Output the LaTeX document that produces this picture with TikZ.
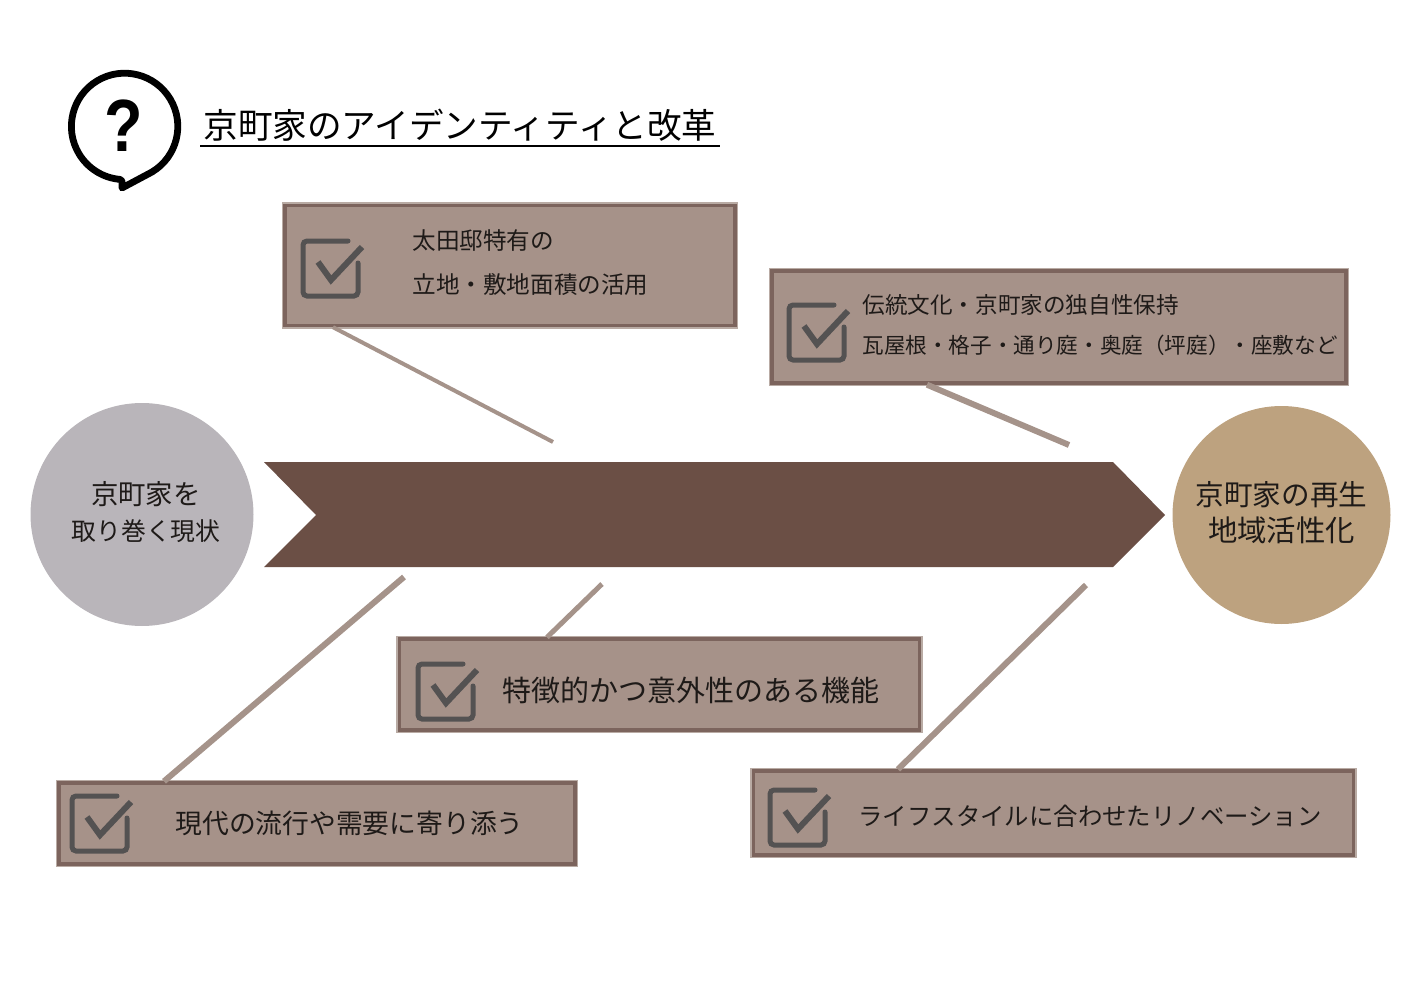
\documentclass[tikz,border=0pt]{standalone}
\usepackage{fontspec}
\usepackage{tikz}
\setmainfont{Noto Sans CJK JP}
\newfontfamily\markfont{Liberation Sans}

\definecolor{boxfill}{HTML}{A69289}
\definecolor{boxline}{HTML}{7C645D}
\definecolor{boxhalo}{HTML}{B9ABA4}
\definecolor{stick}{HTML}{A5938A}
\definecolor{spine}{HTML}{6B4F45}
\definecolor{startdisc}{HTML}{B9B5BA}
\definecolor{enddisc}{HTML}{BDA27F}
\definecolor{tickgray}{HTML}{545252}
\definecolor{inkgray}{HTML}{1E1A18}

\tikzset{
  notebox/.style={rectangle,fill=boxfill,draw=boxline,line width=1.7pt,inner sep=0pt,
    preaction={draw=boxhalo,line width=3.2pt}},
  disc/.style={circle,inner sep=0pt},
  disclabel/.style={inner sep=0pt,align=center,text=inkgray},
  label/.style={anchor=west,inner sep=0pt,align=left,text=inkgray},
  stickline/.style={draw=stick},
  checkmark/.pic={
    \draw[tickgray,line width=2.5pt,rounded corners=2pt,line cap=round]
      (55,22) -- (55,55) -- (0,55) -- (0,0) -- (45,0);
    \draw[tickgray,line width=3pt] (15,21) -- (28,39) -- (59,6);
  }
}
\newcommand{\pxfont}[2]{\fontsize{#1}{#2}\selectfont}

\begin{document}
\begin{tikzpicture}[x=0.5pt,y=-0.5pt]
  \useasboundingbox (0,0) rectangle (1415,1001);

  % heading
  \draw[line width=3.4pt,line join=round] (152,172)
    arc[start angle=-59,end angle=265,radius=26.6pt] -- (122,181) -- (122,188) -- cycle;
  \node[inner sep=0pt,xscale=0.85,font=\markfont\bfseries\pxfont{37}{37}] (askmark) at (124,126) {?};
  \node[label,text=black,font=\pxfont{17.3}{20}] (heading) at (203,125) {京町家のアイデンティティと改革};
  \coordinate (ruleleft) at (200,146);
  \coordinate (ruleright) at (720,146);
  \draw[line width=1pt] (ruleleft) -- (ruleright);

  % arrow and the two ends
  \fill[spine] (264,462) -- (1113,462) -- (1165,515) -- (1113,567) -- (264,567) -- (316,515) -- cycle;
  \node[disc,fill=startdisc,minimum size=111.5pt] (startnode) at (142,514.5) {};
  \node[disc,fill=enddisc,minimum size=109pt] (endnode) at (1281.5,515) {};
  \node[disclabel,font=\pxfont{12.4}{18}] (starttext) at (146,512) {\pxfont{13.7}{18}京町家を\\取り巻く現状};
  \node[disclabel,font=\pxfont{14.7}{18}] (endtext) at (1281.5,512.5) {\pxfont{14.3}{18}京町家の再生\\地域活性化};

  % boxes
  \node[notebox,minimum width=225pt,minimum height=60pt] (box0) at (510,265.5) {};
  \node[notebox,minimum width=287pt,minimum height=56pt] (box1) at (1059,327) {};
  \node[notebox,minimum width=260pt,minimum height=45.5pt] (box2) at (659.5,684.5) {};
  \node[notebox,minimum width=258pt,minimum height=40.5pt] (box3) at (317,823.5) {};
  \node[notebox,minimum width=300pt,minimum height=42pt] (box4) at (1053.5,813) {};

  \pic (tick0) at (303,241) {checkmark};
  \pic (tick1) at (789,305) {checkmark};
  \pic (tick2) at (418,664) {checkmark};
  \pic (tick3) at (72,796) {checkmark};
  \pic (tick4) at (770,790) {checkmark};

  \node[label,font=\pxfont{11.8}{22}] (text0) at (412,263) {太田邸特有の\\立地・敷地面積の活用};
  \node[label,font=\pxfont{10.8}{20}] (text1) at (862,325) {\pxfont{11.3}{20}伝統文化・京町家の独自性保持\\瓦屋根・格子・通り庭・奥庭\symbol{"FF08}坪庭\symbol{"FF09}・座敷など};
  \node[label,font=\pxfont{14.5}{18}] (text2) at (502,690) {特徴的かつ意外性のある機能};
  \node[label,font=\pxfont{13.4}{18}] (text3) at (175,823) {現代の流行や需要に寄り添う};
  \node[label,font=\pxfont{12.2}{18}] (text4) at (858,816) {ライフスタイルに合わせたリノベーション};

  % sticks
  \coordinate (end0) at (553,442);
  \coordinate (end1) at (1069,445);
  \coordinate (end2) at (602,584);
  \coordinate (end3) at (404,577);
  \coordinate (end4) at (1086,585);

  \draw[stickline,line width=2pt] (333,0 |- box0.south) -- (end0);
  \draw[stickline,line width=3pt] (927,0 |- box1.south) -- (end1);
  \draw[stickline,line width=2.5pt] (547,0 |- box2.north) -- (end2);
  \draw[stickline,line width=3pt] (164,0 |- box3.north) -- (end3);
  \draw[stickline,line width=3pt] (898,0 |- box4.north) -- (end4);
\end{tikzpicture}
\end{document}
